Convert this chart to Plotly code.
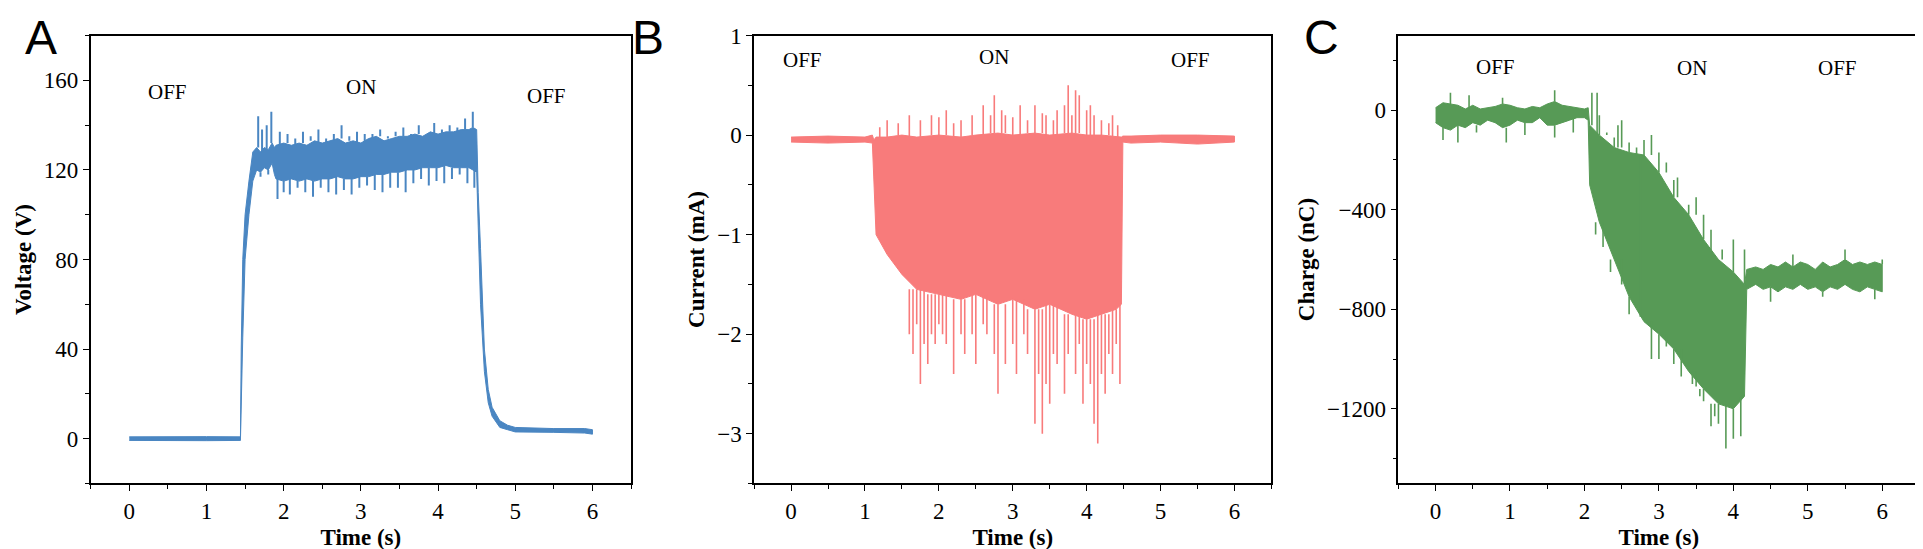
import plotly.graph_objects as go

# ---- panel A: voltage (band = upper/lower envelope)
a_t = [0, 0.3, 0.7, 1.0, 1.44, 1.45, 1.47, 1.5, 1.55, 1.6, 1.65, 1.7, 1.75, 1.8, 1.85, 1.88,
       1.9, 2.0, 2.1, 2.2, 2.3, 2.4, 2.5, 2.6, 2.7, 2.8, 2.9, 3.0, 3.1, 3.2, 3.3, 3.4, 3.5,
       3.6, 3.7, 3.8, 3.9, 4.0, 4.1, 4.2, 4.3, 4.4, 4.45, 4.5, 4.52, 4.55, 4.6, 4.65, 4.7,
       4.8, 4.9, 5.0, 5.5, 5.9, 6.0]
a_hi = [0.8, 0.9, 0.8, 0.9, 0.8, 40, 80, 100, 115, 128, 130, 128, 130, 129, 132, 130,
        131, 132, 131, 132, 131, 133, 132, 133, 134, 132, 133, 132, 134, 135, 133, 134, 135,
        135, 136, 135, 137, 136, 137, 137, 138, 138, 139, 138, 110, 85, 40, 22, 14,
        8, 6, 5, 4.5, 4.5, 4]
a_lo = [-0.8, -0.9, -0.8, -0.9, -0.8, 0, 45, 80, 100, 115, 120, 119, 121, 120, 123, 118,
        116, 115, 116, 115, 116, 115, 116, 116, 117, 116, 116, 117, 117, 118, 118, 119, 119,
        120, 120, 121, 121, 121, 122, 121, 121, 121, 120, 119, 95, 60, 30, 16, 10,
        5, 4, 3, 2.8, 2.5, 2]
a_spk_t = [1.67, 1.72, 1.78, 1.84, 1.95, 2.05, 2.15, 2.25, 2.35, 2.45, 2.55, 2.65, 2.75, 2.85,
           2.95, 3.05, 3.15, 3.25, 3.35, 3.45, 3.55, 3.65, 3.75, 3.85, 3.95, 4.05, 4.15, 4.25,
           4.35, 4.45,
           1.92, 2.0, 2.08, 2.18, 2.28, 2.38, 2.48, 2.58, 2.68, 2.78, 2.88, 2.98, 3.08, 3.18,
           3.28, 3.38, 3.48, 3.58, 3.68, 3.78, 3.88, 3.98, 4.08, 4.18, 4.28, 4.38, 4.47, 1.7, 1.8]
a_spk_y = [144, 138, 140, 146, 137, 136, 134, 137, 135, 138, 134, 136, 140, 135,
           137, 136, 136, 138, 135, 137, 139, 136, 140, 137, 141, 138, 140, 139, 143, 146,
           107, 110, 109, 112, 110, 108, 112, 110, 109, 111, 109, 112, 113, 111,
           110, 112, 112, 110, 114, 116, 113, 115, 114, 116, 118, 114, 112, 117, 118]

# ---- panel B: current (solid body + individual spikes)
b_t = [0, 0.5, 1.0, 1.1, 1.12, 1.15, 1.3, 1.5, 1.7, 2.0, 2.3, 2.5, 2.8, 3.0, 3.3, 3.5,
       3.8, 4.0, 4.2, 4.4, 4.47, 4.49, 4.6, 5.0, 5.5, 6.0]
b_hi = [-0.02, -0.01, -0.02, 0.0, -0.05, -0.02, -0.02, 0.0, -0.02, 0.0, -0.02, 0.0, 0.02, 0.0, 0.02, 0.0,
        0.02, 0.0, 0.0, -0.02, -0.02, -0.01, -0.01, 0.0, 0.0, -0.01]
b_lo = [-0.07, -0.08, -0.07, -0.08, -0.4, -1.0, -1.2, -1.4, -1.55, -1.6, -1.65, -1.6, -1.7, -1.65, -1.75, -1.7,
        -1.8, -1.85, -1.8, -1.75, -1.7, -0.07, -0.08, -0.07, -0.09, -0.07]
b_spk_t = [1.6, 1.65, 1.7, 1.75, 1.8, 1.85, 1.9, 1.95, 2.0, 2.05, 2.1, 2.2, 2.3, 2.35, 2.45, 2.5,
           2.6, 2.65, 2.75, 2.8, 2.9, 3.0, 3.05, 3.15, 3.2, 3.3, 3.35, 3.4, 3.45,
           3.5, 3.55, 3.6, 3.7, 3.75, 3.85, 3.9, 3.95, 4.0, 4.05, 4.1, 4.15, 4.2, 4.25, 4.3,
           4.35, 4.4, 4.45,
           1.2, 1.3, 1.45, 1.6, 1.75, 1.9, 2.0, 2.1, 2.2, 2.3, 2.45, 2.6, 2.7, 2.75, 2.85, 2.9,
           3.0, 3.1, 3.2, 3.3, 3.4, 3.45, 3.55, 3.6, 3.7, 3.75, 3.8, 3.85, 3.9, 4.0, 4.05, 4.1,
           4.2, 4.3, 4.35, 4.42]
b_spk_y = [-2.0, -2.2, -1.9, -2.5, -2.1, -2.3, -2.0, -2.1, -1.9, -2.0, -2.1, -2.4, -2.0, -2.2, -2.0, -2.3,
           -1.9, -2.0, -2.2, -2.6, -2.3, -2.1, -2.4, -2.0, -2.2, -2.9, -2.4, -3.0, -2.5,
           -2.7, -2.2, -2.3, -2.6, -2.2, -2.4, -2.1, -2.7, -2.3, -2.5, -2.9, -3.1, -2.4, -2.6, -2.2,
           -2.4, -2.1, -2.5,
           0.08, 0.15, 0.12, 0.2, 0.15, 0.2, 0.18, 0.25, 0.12, 0.15, 0.2, 0.3, 0.2, 0.4, 0.25, 0.2,
           0.18, 0.3, 0.15, 0.3, 0.22, 0.2, 0.15, 0.25, 0.3, 0.5, 0.2, 0.45, 0.4, 0.25, 0.3, 0.2,
           0.15, 0.12, 0.2, 0.1]

# ---- panel C: charge
c_t = [0, 0.1, 0.2, 0.3, 0.4, 0.5, 0.6, 0.7, 0.8, 0.9, 1.0, 1.1, 1.2, 1.3, 1.4, 1.5, 1.6, 1.7,
       1.8, 1.9, 2.0, 2.05, 2.07, 2.2, 2.4, 2.6, 2.8, 3.0,
       3.2, 3.4, 3.6, 3.8, 4.0, 4.15, 4.18, 4.3, 4.4, 4.5, 4.6, 4.7, 4.8, 4.9, 5.0, 5.1, 5.2,
       5.3, 5.4, 5.5, 5.6, 5.7, 5.8, 5.9, 6.0]
c_hi = [10, 30, 25, 20, 5, 20, 5, 10, 15, 25, 20, 10, 5, 15, 10, 25, 35, 20,
        15, 10, 5, 10, -60, -100, -150, -170, -180, -250,
        -350, -420, -520, -600, -650, -700, -640, -630, -640, -620, -630, -610, -630, -610, -620, -640, -610,
        -630, -620, -600, -620, -610, -620, -610, -620]
c_lo = [-50, -70, -80, -60, -70, -50, -60, -40, -50, -70, -60, -40, -50, -50, -30, -60, -60, -50,
        -40, -30, -30, -40, -300, -450, -600, -750, -850, -900,
        -960, -1050, -1120, -1180, -1200, -1150, -720, -700, -720, -710, -730, -710, -720, -700, -720, -710, -730,
        -710, -720, -700, -720, -730, -710, -720, -730]
c_spk_t = [0.1, 0.3, 0.55, 0.95, 1.2, 1.6, 1.85, 2.9, 3.0, 3.3, 3.5, 3.6, 3.8, 3.9, 4.0, 4.1,
           3.45, 3.55, 3.7, 3.75, 2.15, 2.25, 2.35, 2.5, 2.6, 2.75, 3.1, 3.2,
           2.1, 2.17, 2.3, 2.45, 2.5, 2.7, 2.9, 3.1, 3.25, 3.4, 3.6, 3.85, 4.0, 4.15,
           2.2, 2.4, 2.6, 2.8, 3.0, 3.2, 3.5, 3.7,
           0.2, 0.45, 0.9, 1.6, 4.8, 5.5, 6.0, 4.5, 5.2, 5.9]
c_spk_y = [-120, -130, -90, -130, -100, -110, -90, -1000, -1000, -1070, -1110, -1170, -1260, -1360, -1320, -1310,
           -1100, -1150, -1270, -1230, -500, -550, -650, -700, -820, -830, -950, -1020,
           70, 70, -90, -60, -40, -150, -100, -210, -270, -380, -420, -560, -520, -560,
           -20, -110, -130, -120, -170, -280, -350, -480,
           70, 60, 50, 80, -580, -560, -600, -770, -750, -760]

def band(t, hi, lo, color, xa, ya):
    return go.Scatter(x=t + t[::-1], y=hi + lo[::-1], fill="toself", fillcolor=color,
                      line=dict(color=color, width=1), mode="lines", xaxis=xa, yaxis=ya,
                      showlegend=False, hoverinfo="skip")

def spikes(t, y, base_hi, base_lo, t_ref, color, xa, ya, w=1.6):
    xs, ys = [], []
    for ti, yi in zip(t, y):
        # attach each spike to the body edge nearest in time
        k = min(range(len(t_ref)), key=lambda i: abs(t_ref[i] - ti))
        xs += [ti, ti, None]
        ys += [base_lo[k] if yi < base_lo[k] else base_hi[k], yi, None]
    return go.Scatter(x=xs, y=ys, mode="lines", line=dict(color=color, width=w),
                      xaxis=xa, yaxis=ya, showlegend=False, hoverinfo="skip")

blue, red, green = "#4a86c2", "#f87b7b", "#579a56"
fig = go.Figure()
fig.add_trace(band(a_t, a_hi, a_lo, blue, "x", "y"))
fig.add_trace(spikes(a_spk_t, a_spk_y, a_hi, a_lo, a_t, blue, "x", "y", 2))
fig.add_trace(band(b_t, b_hi, b_lo, red, "x2", "y2"))
fig.add_trace(spikes(b_spk_t, b_spk_y, b_hi, b_lo, b_t, red, "x2", "y2"))
fig.add_trace(band(c_t, c_hi, c_lo, green, "x3", "y3"))
fig.add_trace(spikes(c_spk_t, c_spk_y, c_hi, c_lo, c_t, green, "x3", "y3"))

serif = "Liberation Serif"
ydom = [0.137, 0.971]
xdoms = [[0.043, 0.324], [0.388, 0.657], [0.723, 0.994]]
ycfg = [dict(range=[-20, 180], tickvals=[0, 40, 80, 120, 160], title="Voltage (V)", minor_dtick=20),
        dict(range=[-3.5, 1], tickvals=[-3, -2, -1, 0, 1], title="Current (mA)", minor_dtick=0.5),
        dict(range=[-1500, 300], tickvals=[-1200, -800, -400, 0], title="Charge (nC)", minor_dtick=200)]
axstyle = dict(showline=True, linecolor="black", linewidth=1.5, mirror=True, ticks="outside",
               ticklen=6, tickcolor="black", showgrid=False, zeroline=False,
               tickfont=dict(family=serif, size=23, color="black"))
lay = {}
for i in range(3):
    s = "" if i == 0 else str(i + 1)
    lay["xaxis" + s] = dict(domain=xdoms[i], range=[-0.5, 6.5], tickvals=list(range(7)),
                            minor=dict(dtick=0.5, ticks="outside", ticklen=4, tickcolor="black"),
                            title=dict(text="<b>Time (s)</b>", font=dict(family=serif, size=23, color="black"), standoff=6),
                            anchor="y" + s, **axstyle)
    c = ycfg[i]
    lay["yaxis" + s] = dict(domain=ydom, range=c["range"], tickvals=c["tickvals"],
                            minor=dict(dtick=c["minor_dtick"], ticks="outside", ticklen=4, tickcolor="black"),
                            title=dict(text="<b>" + c["title"] + "</b>", font=dict(family=serif, size=23, color="black"), standoff=6),
                            anchor="x" + s, **axstyle)
fig.update_layout(**lay)

labels = [("x", "y", [(0.5, 155), (3.0, 157), (5.4, 153)]),
          ("x2", "y2", [(0.15, 0.75), (2.75, 0.78), (5.4, 0.75)]),
          ("x3", "y3", [(0.8, 175), (3.45, 168), (5.4, 170)])]
for xa, ya, pts in labels:
    for (x, y), txt in zip(pts, ["OFF", "ON", "OFF"]):
        fig.add_annotation(x=x, y=y, xref=xa, yref=ya, text=txt, showarrow=False,
                           font=dict(family=serif, size=21, color="black"))
for x, txt in [(0.017, "A"), (0.333, "B"), (0.683, "C")]:
    fig.add_annotation(x=x, y=1.02, xref="paper", yref="paper", text=txt, showarrow=False,
                       xanchor="center", yanchor="top", font=dict(family="Liberation Sans", size=48, color="black"))

fig.update_layout(width=1923, height=549, margin=dict(l=0, r=0, t=0, b=0),
                  plot_bgcolor="white", paper_bgcolor="white")
fig.write_html("out.html")
